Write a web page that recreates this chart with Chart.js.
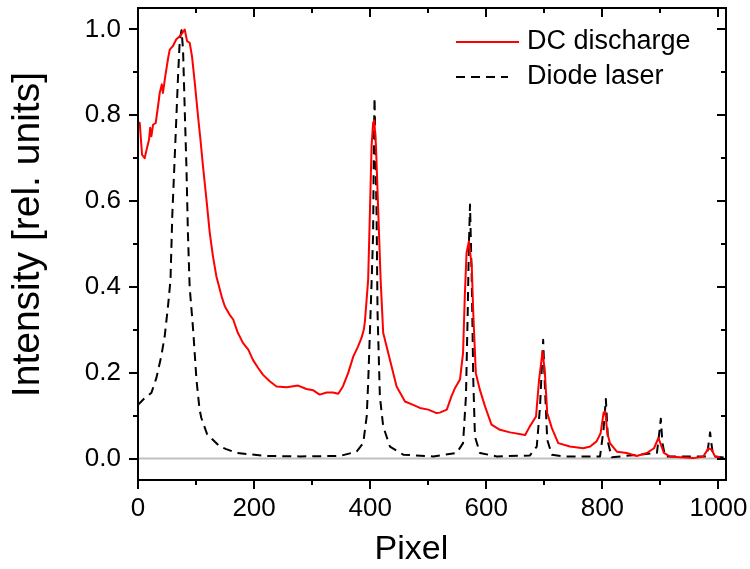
<!DOCTYPE html>
<html>
<head>
<meta charset="utf-8">
<title>DC discharge vs diode laser</title>
<script src="https://cdn.jsdelivr.net/npm/chart.js@4.4.1/dist/chart.umd.min.js"></script>
<style>
  html, body { margin: 0; padding: 0; background: #fff; }
  #wrap { width: 750px; height: 569px; }
</style>
</head>
<body>
<div id="wrap"><canvas id="spectrum" width="750" height="569"></canvas></div>
<script>
// ---- data ----
const seriesLabels = ['DC discharge', 'Diode laser'];
const xTitle = 'Pixel';
const yTitle = 'Intensity [rel. units]';

const dcPixel = [0, 3, 7, 11.5, 15.5, 19, 21, 23, 26, 30.5,
    34.5, 37.4, 41, 43, 47, 52, 54.7, 60, 66, 72,
    76.5, 80.5, 84.5, 89, 93, 97.8, 103.4, 107.6, 112, 118,
    123.6, 129.3, 135, 144, 149.5, 158, 164, 172, 181, 190,
    198, 207, 215.5, 227, 238.6, 256, 276, 290, 302, 313,
    325, 336, 345, 353, 362, 371, 379, 385, 389, 391,
    396.5, 399.5, 402.4, 405, 407, 410, 414, 418, 422.4, 434,
    445.5, 460, 474, 485.7, 500, 514.5, 520, 532, 540, 546,
    554.7, 560, 563, 566, 570, 575, 577.6, 582, 589, 598,
    609, 623.6, 641, 667, 675, 685.7, 691, 697, 701, 705,
    713, 724, 744, 767, 779, 790, 797, 802, 805, 808.6,
    813, 825, 842, 859, 876.6, 889, 896.6, 901, 906, 916,
    934, 957, 974, 982.8, 988.6, 994, 1003];
const dcIntensity = [0.784, 0.782, 0.708, 0.700, 0.724, 0.743, 0.771, 0.751, 0.778, 0.782,
    0.821, 0.852, 0.872, 0.852, 0.891, 0.934, 0.953, 0.961, 0.977, 0.984,
    0.992, 1.000, 0.973, 0.969, 0.938, 0.876, 0.798, 0.743, 0.681, 0.603,
    0.526, 0.470, 0.425, 0.378, 0.355, 0.335, 0.324, 0.293, 0.269, 0.254,
    0.230, 0.211, 0.195, 0.180, 0.168, 0.166, 0.170, 0.162, 0.159, 0.149,
    0.154, 0.154, 0.151, 0.168, 0.199, 0.238, 0.261, 0.281, 0.300, 0.320,
    0.417, 0.572, 0.728, 0.782, 0.788, 0.728, 0.572, 0.417, 0.293, 0.230,
    0.168, 0.133, 0.125, 0.118, 0.114, 0.106, 0.107, 0.114, 0.145, 0.164,
    0.184, 0.246, 0.378, 0.479, 0.506, 0.448, 0.339, 0.199, 0.160, 0.121,
    0.079, 0.067, 0.061, 0.055, 0.075, 0.098, 0.184, 0.250, 0.199, 0.106,
    0.071, 0.036, 0.028, 0.024, 0.028, 0.040, 0.059, 0.106, 0.110, 0.059,
    0.036, 0.016, 0.013, 0.006, 0.013, 0.024, 0.048, 0.032, 0.013, 0.005,
    0.003, 0.001, 0.005, 0.024, 0.020, 0.005, 0.003];

const laserPixel = [0, 11.5, 23, 31.7, 40, 46, 51.7, 56, 59, 65,
    69, 72, 75, 77.6, 80.5, 83.4, 86, 89, 95, 100.7,
    106, 109, 119, 141, 152, 170, 221, 279, 348, 376.5,
    388, 394, 396.5, 399.5, 402.4, 405, 406.5, 407.5, 411, 412.7,
    416.7, 422.4, 434, 457, 508.6, 549, 560, 565, 568, 570,
    572, 575, 577.6, 580.5, 589, 618, 675, 687, 692.6, 698,
    701, 705, 713, 733, 796, 802, 806, 810, 816, 894,
    898, 900.7, 903.5, 908, 980, 984, 985.6, 988.6, 991, 1010];
const laserIntensity = [0.125, 0.141, 0.153, 0.188, 0.238, 0.285, 0.355, 0.417, 0.564, 0.759,
    0.891, 0.977, 0.998, 0.953, 0.813, 0.681, 0.526, 0.400, 0.300, 0.184,
    0.115, 0.095, 0.057, 0.028, 0.022, 0.013, 0.006, 0.005, 0.006, 0.016,
    0.036, 0.098, 0.176, 0.293, 0.409, 0.520, 0.750, 0.841, 0.572, 0.339,
    0.145, 0.075, 0.028, 0.009, 0.005, 0.013, 0.036, 0.145, 0.339, 0.494,
    0.592, 0.417, 0.184, 0.051, 0.013, 0.005, 0.007, 0.028, 0.121, 0.277,
    0.168, 0.044, 0.009, 0.005, 0.005, 0.067, 0.139, 0.036, 0.003, 0.013,
    0.059, 0.093, 0.036, 0.005, 0.005, 0.044, 0.061, 0.028, 0.005, 0.002];

const xMajorTicks = [0, 200, 400, 600, 800, 1000];
const xMinorTicks = [100, 300, 500, 700, 900];
const yMajorTicks = [0, 0.2, 0.4, 0.6, 0.8, 1.0];
const yMinorTicks = [0.1, 0.3, 0.5, 0.7, 0.9];

const FONT = "'Liberation Sans', Arial, sans-serif";

function toPoints(xs, ys) {
    return xs.map((x, i) => ({ x, y: ys[i] }));
}

// zero line, box frame, major/minor ticks on all sides, axis titles and the legend
const frameAndTicks = {
    id: 'frameAndTicks',
    beforeDatasetsDraw(chart) {
        const { ctx, chartArea: a, scales: { y } } = chart;
        const y0 = y.getPixelForValue(0);
        ctx.save();
        ctx.strokeStyle = '#c0c0c0';
        ctx.lineWidth = 2;
        ctx.beginPath();
        ctx.moveTo(a.left, y0);
        ctx.lineTo(a.right, y0);
        ctx.stroke();
        ctx.restore();
    },
    afterDraw(chart) {
        const { ctx, chartArea: a, scales: { x, y } } = chart;
        ctx.save();
        ctx.strokeStyle = '#000';
        ctx.lineWidth = 2;
        ctx.strokeRect(a.left, a.top, a.right - a.left, a.bottom - a.top);

        ctx.beginPath();
        [[xMajorTicks, 9], [xMinorTicks, 5]].forEach(([vals, len]) => {
            vals.forEach(v => {
                const px = Math.round(x.getPixelForValue(v));
                ctx.moveTo(px, a.bottom); ctx.lineTo(px, a.bottom + len);   // outward
                ctx.moveTo(px, a.top); ctx.lineTo(px, a.top + len);         // inward
            });
        });
        [[yMajorTicks, 9], [yMinorTicks, 5]].forEach(([vals, len]) => {
            vals.forEach(v => {
                const py = Math.round(y.getPixelForValue(v));
                ctx.moveTo(a.left - len, py); ctx.lineTo(a.left, py);       // outward
                ctx.moveTo(a.right - len, py); ctx.lineTo(a.right, py);     // inward
            });
        });
        ctx.stroke();

        // axis titles (sit a little off-centre in the original)
        ctx.fillStyle = '#000';
        ctx.textBaseline = 'middle';
        ctx.textAlign = 'center';
        ctx.font = '34px ' + FONT;
        ctx.fillText(xTitle, a.left + (a.right - a.left) * 0.465, 550);
        ctx.save();
        ctx.translate(28, a.top + (a.bottom - a.top) * 0.48);
        ctx.rotate(-Math.PI / 2);
        ctx.font = '39px ' + FONT;
        ctx.fillText(yTitle, 0, 0);
        ctx.restore();

        // legend, top right inside the plot
        ctx.font = '27px ' + FONT;
        ctx.textAlign = 'left';
        chart.data.datasets.forEach((ds, i) => {
            const ly = a.top + 34 + i * 35;
            const lx = a.right - 270;
            ctx.strokeStyle = ds.borderColor;
            ctx.lineWidth = ds.borderWidth;
            ctx.setLineDash(ds.borderDash || []);
            ctx.beginPath();
            ctx.moveTo(lx, ly);
            ctx.lineTo(lx + (ds.borderDash ? 52 : 63), ly);
            ctx.stroke();
            ctx.setLineDash([]);
            ctx.fillText(ds.label, lx + 71, ly);
        });
        ctx.restore();
    }
};

const ctx = document.getElementById('spectrum').getContext('2d');

new Chart(ctx, {
    type: 'line',
    data: {
        datasets: [
            {
                label: seriesLabels[0],
                data: toPoints(dcPixel, dcIntensity),
                borderColor: '#ff0000',
                borderWidth: 2,
                fill: false,
            },
            {
                label: seriesLabels[1],
                data: toPoints(laserPixel, laserIntensity),
                borderColor: '#000000',
                borderWidth: 2,
                borderDash: [9, 6],
                fill: false,
            }
        ]
    },
    options: {
        responsive: false,
        animation: false,
        layout: { padding: { top: 8, right: 24, left: 0, bottom: 0 } },
        elements: {
            point: { radius: 0 },
            line: { tension: 0, borderJoinStyle: 'round' }
        },
        plugins: {
            legend: { display: false },
            tooltip: { enabled: false }
        },
        scales: {
            x: {
                type: 'linear',
                min: 0,
                max: 1013,
                afterBuildTicks: (s) => { s.ticks = xMajorTicks.map(v => ({ value: v })); },
                afterFit: (s) => {
                    s.height = 89;
                    s.paddingLeft = 0;
                    s.paddingRight = 0;
                },
                ticks: {
                    color: '#000',
                    font: { family: FONT, size: 26 },
                    padding: 13,
                    maxRotation: 0,
                    autoSkip: false,
                    callback: (v) => String(v)
                },
                grid: { display: false, drawTicks: false },
                border: { display: false },
                title: { display: false }
            },
            y: {
                type: 'linear',
                min: -0.05,
                max: 1.05,
                afterBuildTicks: (s) => { s.ticks = yMajorTicks.map(v => ({ value: v })); },
                afterFit: (s) => {
                    s.width = 138;
                    s.paddingTop = 0;
                    s.paddingBottom = 0;
                },
                ticks: {
                    color: '#000',
                    font: { family: FONT, size: 26 },
                    padding: 17,
                    callback: (v) => Number(v).toFixed(1)
                },
                grid: { display: false, drawTicks: false },
                border: { display: false },
                title: { display: false }
            }
        }
    },
    plugins: [frameAndTicks]
});
</script>
</body>
</html>
